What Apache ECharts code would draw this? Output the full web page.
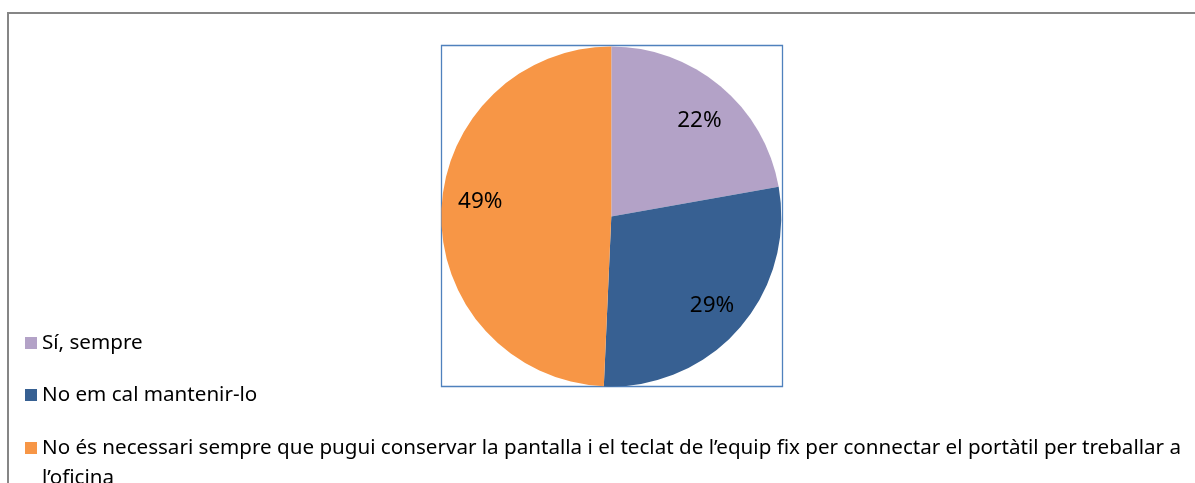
<!DOCTYPE html>
<html>
<head>
<meta charset="utf-8">
<script src="https://cdn.jsdelivr.net/npm/echarts@6/dist/echarts.min.js"></script>
<style>html,body{margin:0;padding:0;background:#fff;}#c{width:1195px;height:483px;}</style>
</head>
<body>
<div id="c"></div>
<script>
var categories = ['Sí, sempre', 'No em cal mantenir-lo', 'No és necessari sempre que pugui conservar la pantalla i el teclat de l’equip fix per connectar el portàtil per treballar a l’oficina'];
var values = [22.2, 28.5, 49.3];
var colors = ['#B3A2C7', '#376092', '#F79646'];

var FONT = 'Noto Sans';
var LEG_FS = 20.6;
var labelOffsets = [[2, 7], [0, 1], [3, -12]];
var legendTops = [331, 383, 433];

var chart = echarts.init(document.getElementById('c'));
var mainData = categories.map(function (n, i) { return { name: n, value: values[i], itemStyle: { color: colors[i] } }; });
var labelData = categories.map(function (n, i) { return { name: n, value: values[i], label: { offset: labelOffsets[i] } }; });

var legends = categories.map(function (n, i) {
  var multi = i === 2;
  return {
    orient: 'vertical',
    left: 25,
    top: legendTops[i],
    padding: 0,
    itemWidth: 12,
    itemHeight: multi ? 42 : 12,
    icon: multi ? 'path://M0,0H12V12H0Z M0,41.99H0.01V42H0Z' : 'rect',
    selectedMode: false,
    data: [{ name: n, itemStyle: { color: colors[i] } }],
    textStyle: multi
      ? { fontFamily: FONT, fontSize: LEG_FS, color: '#000', width: 1190, overflow: 'break', lineHeight: 30 }
      : { fontFamily: FONT, fontSize: LEG_FS, color: '#000', lineHeight: 24 }
  };
});

chart.setOption({
  animation: false,
  backgroundColor: '#fff',
  graphic: [
    { type: 'rect', shape: { x: 8, y: 13, width: 1300, height: 600 }, style: { fill: 'none', stroke: '#868686', lineWidth: 2 }, silent: true, z: 0 },
    { type: 'rect', shape: { x: 441.5, y: 45.5, width: 341, height: 341 }, style: { fill: 'none', stroke: '#4F81BD', lineWidth: 1.3 }, silent: true, z: 0 }
  ],
  legend: legends,
  series: [
    {
      type: 'pie',
      center: [611.3, 216.5],
      radius: [0, 170],
      startAngle: 90,
      clockwise: true,
      data: mainData,
      label: { show: false },
      labelLine: { show: false },
      itemStyle: { borderWidth: 0 },
      emphasis: { disabled: true },
      silent: true
    },
    {
      type: 'pie',
      center: [611.3, 216.5],
      radius: [92, 170],
      startAngle: 90,
      clockwise: true,
      data: labelData,
      itemStyle: { color: 'rgba(0,0,0,0)', borderWidth: 0 },
      label: {
        show: true,
        position: 'inside',
        formatter: function (p) { return Math.round(p.percent) + '%'; },
        fontFamily: FONT,
        fontSize: 22.5,
        color: '#000'
      },
      labelLine: { show: false },
      emphasis: { disabled: true },
      silent: true,
      z: 3
    }
  ]
});
</script>
</body>
</html>
